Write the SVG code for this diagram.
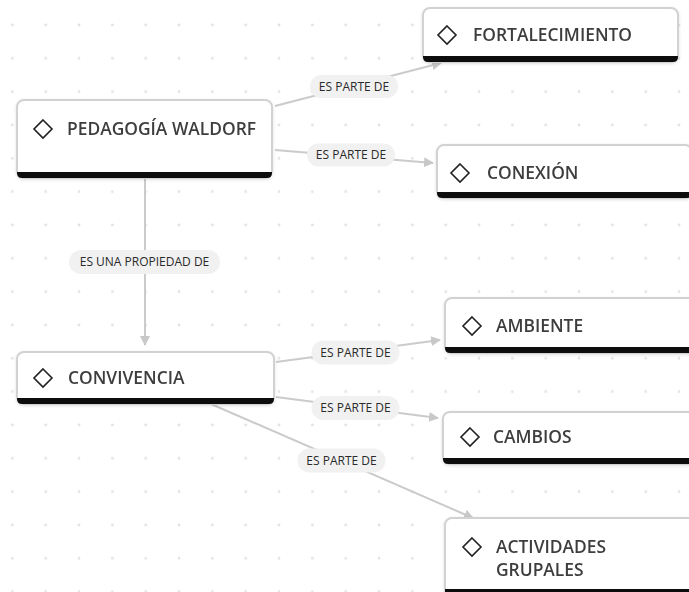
<svg xmlns="http://www.w3.org/2000/svg" width="689" height="592" viewBox="0 0 689 592">
<defs>
<pattern id="dots" patternUnits="userSpaceOnUse" x="-4.333" y="8.333" width="33.333" height="33.333">
<circle cx="16.667" cy="16.667" r="1.4" fill="#e2e2e2"/>
</pattern>
<marker id="arr" viewBox="0 0 10 10" refX="9" refY="5" markerWidth="5" markerHeight="5" orient="auto" markerUnits="strokeWidth">
<path d="M0,0 L10,5 L0,10 Z" fill="#c8c8c8"/>
</marker>
<filter id="sh" x="-10%" y="-10%" width="120%" height="130%">
<feDropShadow dx="0" dy="1" stdDeviation="1.5" flood-color="#000" flood-opacity="0.12"/>
</filter>
</defs>
<style>
.box{fill:#fff;stroke:#d2d2d2;stroke-width:2}
.bar{fill:#111}
.dia{fill:none;stroke:#222;stroke-width:1.6}
.nt{font-family:"Open Sans","Noto Sans",sans-serif;font-weight:600;font-size:17.4px;fill:#3e3e3e}
.edge{stroke:#cbcbcb;stroke-width:2;fill:none}
.pill{fill:#f1f1f1}
.lt{font-family:"Open Sans","Noto Sans",sans-serif;font-size:12px;fill:#2a2a2a;text-anchor:middle}
</style>
<rect width="689" height="592" fill="#fff"/>
<rect width="689" height="592" fill="url(#dots)"/>

<g id="connectors">
<line class="edge" x1="275" y1="106" x2="441" y2="63" marker-end="url(#arr)"/>
<line class="edge" x1="275" y1="150" x2="433" y2="163" marker-end="url(#arr)"/>
<line class="edge" x1="145" y1="179" x2="145" y2="345" marker-end="url(#arr)"/>
<line class="edge" x1="276" y1="362" x2="440" y2="340" marker-end="url(#arr)"/>
<line class="edge" x1="276" y1="397" x2="438" y2="418" marker-end="url(#arr)"/>
<line class="edge" x1="211" y1="404" x2="473" y2="518" marker-end="url(#arr)"/>
<rect class="pill" x="310" y="75" width="88" height="23" rx="11.5"/>
<text class="lt" x="354" y="90.5">ES PARTE DE</text>
<rect class="pill" x="307" y="143.5" width="88" height="23" rx="11.5"/>
<text class="lt" x="351" y="159">ES PARTE DE</text>
<rect class="pill" x="69" y="250" width="151" height="24" rx="12"/>
<text class="lt" x="144.5" y="266">ES UNA PROPIEDAD DE</text>
<rect class="pill" x="311.5" y="340.5" width="88" height="24" rx="12"/>
<text class="lt" x="355.5" y="356.5">ES PARTE DE</text>
<rect class="pill" x="311.5" y="396" width="88" height="24" rx="12"/>
<text class="lt" x="355.5" y="412">ES PARTE DE</text>
<rect class="pill" x="297.5" y="448.5" width="88" height="24" rx="12"/>
<text class="lt" x="341.5" y="464.5">ES PARTE DE</text>
</g>

<g id="n-pedagogia" filter="url(#sh)">
<rect class="box" x="17" y="100" width="255" height="78" rx="7"/>
<path class="bar" d="M17,172 H272 V173 Q272,178 267,178 H22 Q17,178 17,173 Z"/>
<path class="dia" d="M43,120 L52,129 L43,138 L34,129 Z"/>
<text class="nt" x="67" y="135">PEDAGOGÍA WALDORF</text>
</g>

<g id="n-fortalecimiento" filter="url(#sh)">
<rect class="box" x="423" y="8" width="255" height="54" rx="7"/>
<path class="bar" d="M423,56 H678 V57 Q678,62 673,62 H428 Q423,62 423,57 Z"/>
<path class="dia" d="M447,26 L456,35 L447,44 L438,35 Z"/>
<text class="nt" x="473" y="41">FORTALECIMIENTO</text>
</g>

<g id="n-conexion" filter="url(#sh)">
<rect class="box" x="437" y="145" width="255" height="53" rx="7"/>
<path class="bar" d="M437,192 H692 V193 Q692,198 687,198 H442 Q437,198 437,193 Z"/>
<path class="dia" d="M460,164 L469,173 L460,182 L451,173 Z"/>
<text class="nt" x="487" y="179">CONEXIÓN</text>
</g>

<g id="n-convivencia" filter="url(#sh)">
<rect class="box" x="17" y="352" width="257" height="52" rx="7"/>
<path class="bar" d="M17,398 H274 V399 Q274,404 269,404 H22 Q17,404 17,399 Z"/>
<path class="dia" d="M43,369 L52,378 L43,387 L34,378 Z"/>
<text class="nt" x="68" y="384">CONVIVENCIA</text>
</g>

<g id="n-ambiente" filter="url(#sh)">
<rect class="box" x="445" y="298" width="255" height="55" rx="7"/>
<path class="bar" d="M445,347 H700 V348 Q700,353 695,353 H450 Q445,353 445,348 Z"/>
<path class="dia" d="M472,317 L481,326 L472,335 L463,326 Z"/>
<text class="nt" x="496" y="332">AMBIENTE</text>
</g>

<g id="n-cambios" filter="url(#sh)">
<rect class="box" x="443" y="412" width="255" height="52" rx="7"/>
<path class="bar" d="M443,458 H698 V459 Q698,464 693,464 H448 Q443,464 443,459 Z"/>
<path class="dia" d="M470,428 L479,437 L470,446 L461,437 Z"/>
<text class="nt" x="493" y="443">CAMBIOS</text>
</g>

<g id="n-actividades" filter="url(#sh)">
<rect class="box" x="445" y="518" width="255" height="78" rx="7"/>
<path class="bar" d="M445,589 H700 V596 H445 Z"/>
<path class="dia" d="M472,538 L481,547 L472,556 L463,547 Z"/>
<text class="nt" x="496" y="553">ACTIVIDADES</text>
<text class="nt" x="496" y="576">GRUPALES</text>
</g>
</svg>
